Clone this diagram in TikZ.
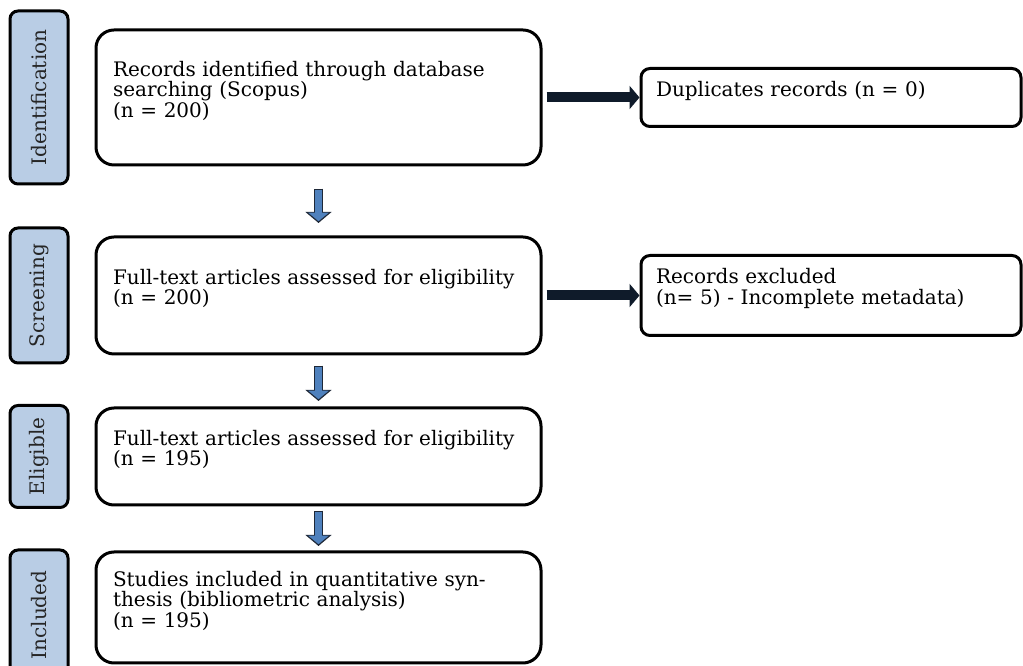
\documentclass[tikz,border=0pt]{standalone}
\usepackage{fontspec}
\setmainfont{DejaVu Serif}
\usepackage{graphicx}
\usetikzlibrary{arrows.meta,positioning}
\definecolor{StageFill}{RGB}{185,205,229}
\definecolor{FlowBlue}{RGB}{79,129,189}
\definecolor{FlowEdge}{RGB}{30,40,55}
\definecolor{SideArrow}{RGB}{15,27,42}
\newcommand{\boxpad}{\par\kern 14pt}

\begin{document}
\begin{tikzpicture}[
  x=1pt, y=1pt,
  font=\fontsize{20}{20.5}\selectfont,
  box/.style={rectangle, draw=black, line width=3pt, rounded corners=18pt, fill=white, align=left, text width=411pt, inner xsep=17pt, inner ysep=0pt, execute at end node=\boxpad},
  stage/.style={rectangle, draw=black, line width=3pt, rounded corners=8pt, fill=StageFill, minimum width=58pt, inner sep=0pt, text=black!85},
  side/.style={rectangle, draw=black, line width=3pt, rounded corners=9pt, fill=white, align=left, text width=350pt, inner xsep=15pt, inner ysep=0pt, execute at end node=\boxpad},
  sidearr/.style={draw=SideArrow, line width=10pt, -{Triangle[width=23pt,length=10pt]}, shorten <=4pt},
  downarr/.style 2 args={draw=FlowBlue, line width=7pt, -{Triangle[width=20pt,length=8.5pt]}, shorten <=#1, shorten >=#2+1.8pt,
    preaction={draw=FlowEdge, line width=9.6pt, -{Triangle[width=25.5pt,length=11pt]}, shorten <=#1-1.3pt, shorten >=#2}},
]
\useasboundingbox (0,0) rectangle (1023,666);
% main column
\node[box, minimum height=135pt] (b1) at (318.5,568.5) {Records identified through database\\searching (Scopus)\\(n = 200)};
\node[box, minimum height=117pt, below=69pt of b1] (b2) {Full-text articles assessed for eligibility\\(n = 200)};
\node[box, minimum height=97pt, below=51pt of b2] (b3) {Full-text articles assessed for eligibility\\(n = 195)};
\node[box, minimum height=111pt, below=44pt of b3] (b4) {Studies included in quantitative syn-\\thesis (bibliometric analysis)\\(n = 195)};
% phase labels
\node[stage, minimum height=173pt, left=25pt of b1] (s1) {\rotatebox{90}{Identification}};
\node[stage, minimum height=135pt, left=25pt of b2] (s2) {\rotatebox{90}{Screening}};
\node[stage, minimum height=102pt, left=25pt of b3] (s3) {\rotatebox{90}{Eligible}};
\node[stage, minimum height=130pt, left=25pt of b4, yshift=-7.5pt] (s4) {\rotatebox{90}{Included}};
% removed records
\node[side, minimum height=58pt, right=97pt of b1] (r1) {Duplicates records (n = 0)};
\node[side, minimum height=80pt, right=97pt of b2] (r2) {Records excluded\\(n= 5) - Incomplete metadata)};
\draw[sidearr] (b1) -- (r1);
\draw[sidearr] (b2) -- (r2);
\draw[downarr={23.5pt}{12.5pt}] (b1) -- (b2);
\draw[downarr={11.5pt}{5.5pt}] (b2) -- (b3);
\draw[downarr={5.5pt}{4.5pt}] (b3) -- (b4);
\end{tikzpicture}
\end{document}
